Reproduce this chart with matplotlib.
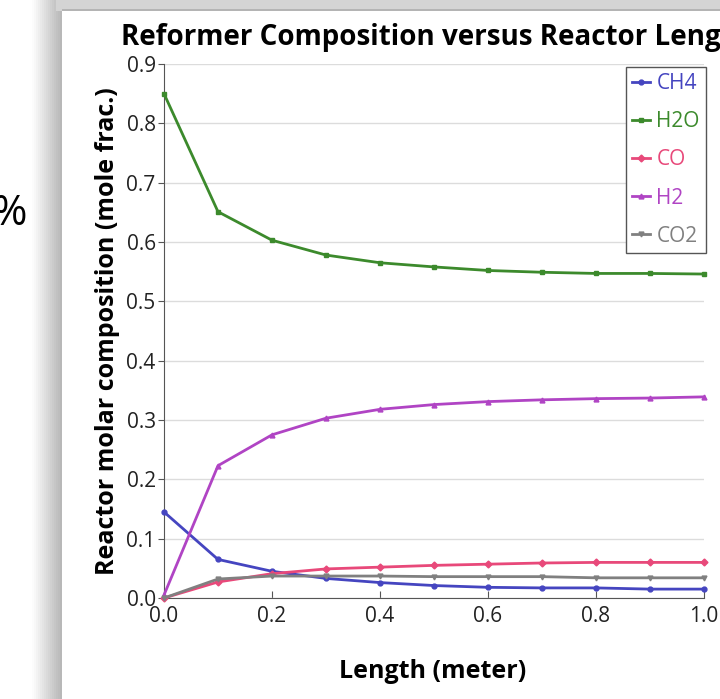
import numpy as np
import matplotlib.pyplot as plt
from matplotlib.patches import Rectangle

plt.rcParams['font.family'] = ['Open Sans', 'DejaVu Sans']

# reactor length (m)
length = [0.0, 0.1, 0.2, 0.3, 0.4, 0.5, 0.6, 0.7, 0.8, 0.9, 1.0]

# mole fractions
ch4 = [0.145, 0.065, 0.045, 0.033, 0.026, 0.021, 0.018, 0.017, 0.017, 0.015, 0.015]
h2o = [0.850, 0.651, 0.603, 0.578, 0.565, 0.558, 0.552, 0.549, 0.547, 0.547, 0.546]
co = [0.000, 0.027, 0.041, 0.049, 0.052, 0.055, 0.057, 0.059, 0.060, 0.060, 0.060]
h2 = [0.005, 0.223, 0.275, 0.303, 0.318, 0.326, 0.331, 0.334, 0.336, 0.337, 0.339]
co2 = [0.000, 0.032, 0.037, 0.037, 0.037, 0.036, 0.036, 0.036, 0.034, 0.034, 0.034]

series = [
    ('CH4', ch4, '#4545c0', 'o'),
    ('H2O', h2o, '#3c8a2c', 's'),
    ('CO', co, '#e8497a', 'D'),
    ('H2', h2, '#b044c4', '^'),
    ('CO2', co2, '#808080', 'v'),
]

W, H = 720, 699
fig = plt.figure(figsize=(W / 100, H / 100), dpi=100)

def px(x0, y0, w, h, **kw):
    # rectangle in pixel coords (origin top-left), kept behind the axes
    fig.patches.append(Rectangle((x0 / W, 1 - (y0 + h) / H), w / W, h / H,
                                 transform=fig.transFigure, lw=0, zorder=-5, **kw))

# slide frame shadow
shades = np.linspace(0.99, 0.72, 15)
for i, g in enumerate(shades):
    px(32 + i * 2, 0, 2, H, color=str(g))
px(56, 0, W, 11, color='#d4d4d4')
px(62, 9, W, 2, color='#b4b4b4')
px(62, 11, W, H, color='white')

fig.text(27 / W, 1 - 214 / H, '%', fontsize=30, ha='right', va='center')

ax = fig.add_axes([164 / W, 1 - 598 / H, 540 / W, 534 / H])
ax.patch.set_alpha(0)
for name, vals, col, mk in series:
    ax.plot(length, vals, color=col, lw=2, marker=mk, ms=3.5,
            label=name, clip_on=False, zorder=3)

ax.set_xlim(0, 1.0)
ax.set_ylim(0, 0.9)
ax.set_xticks(np.arange(0, 1.01, 0.2))
ax.set_yticks(np.arange(0, 0.91, 0.1))
ax.xaxis.set_major_formatter(plt.FormatStrFormatter('%.1f'))
ax.yaxis.set_major_formatter(plt.FormatStrFormatter('%.1f'))
ax.grid(axis='y', color='#dcdcdc', lw=1)
ax.set_axisbelow(True)
ax.spines[['top', 'right']].set_visible(False)
ax.spines[['left', 'bottom']].set_color('#555555')
ax.tick_params(axis='x', direction='in', length=5, labelsize=15,
               colors='#555555', labelcolor='#222222', pad=6)
ax.tick_params(axis='y', direction='out', length=4, labelsize=15,
               colors='#555555', labelcolor='#222222', pad=2)

ax.set_xlabel('Length (meter)', fontsize=18, fontweight='bold')
ax.xaxis.set_label_coords(0.498, -0.137)
ax.xaxis.label.set_va('center')
ax.set_ylabel('Reactor molar composition (mole frac.)', fontsize=18,
              fontweight='bold')
ax.yaxis.set_label_coords(-0.104, 0.5)
ax.yaxis.label.set_va('center')

fig.text(121 / W, 1 - 38 / H, 'Reformer Composition versus Reactor Length',
         fontsize=20, fontweight='bold', ha='left', va='center')

leg = ax.legend(loc='upper right', bbox_to_anchor=(706 / W, 1 - 67 / H),
                bbox_transform=fig.transFigure, fontsize=15, borderaxespad=0,
                handlelength=0.85, handletextpad=0.3, labelspacing=0.82,
                borderpad=0.3, fancybox=False, framealpha=1,
                edgecolor='#555555', markerscale=1.0)
for txt, (_, _, col, _) in zip(leg.get_texts(), series):
    txt.set_color(col)

fig.savefig('out.png', dpi=100)
